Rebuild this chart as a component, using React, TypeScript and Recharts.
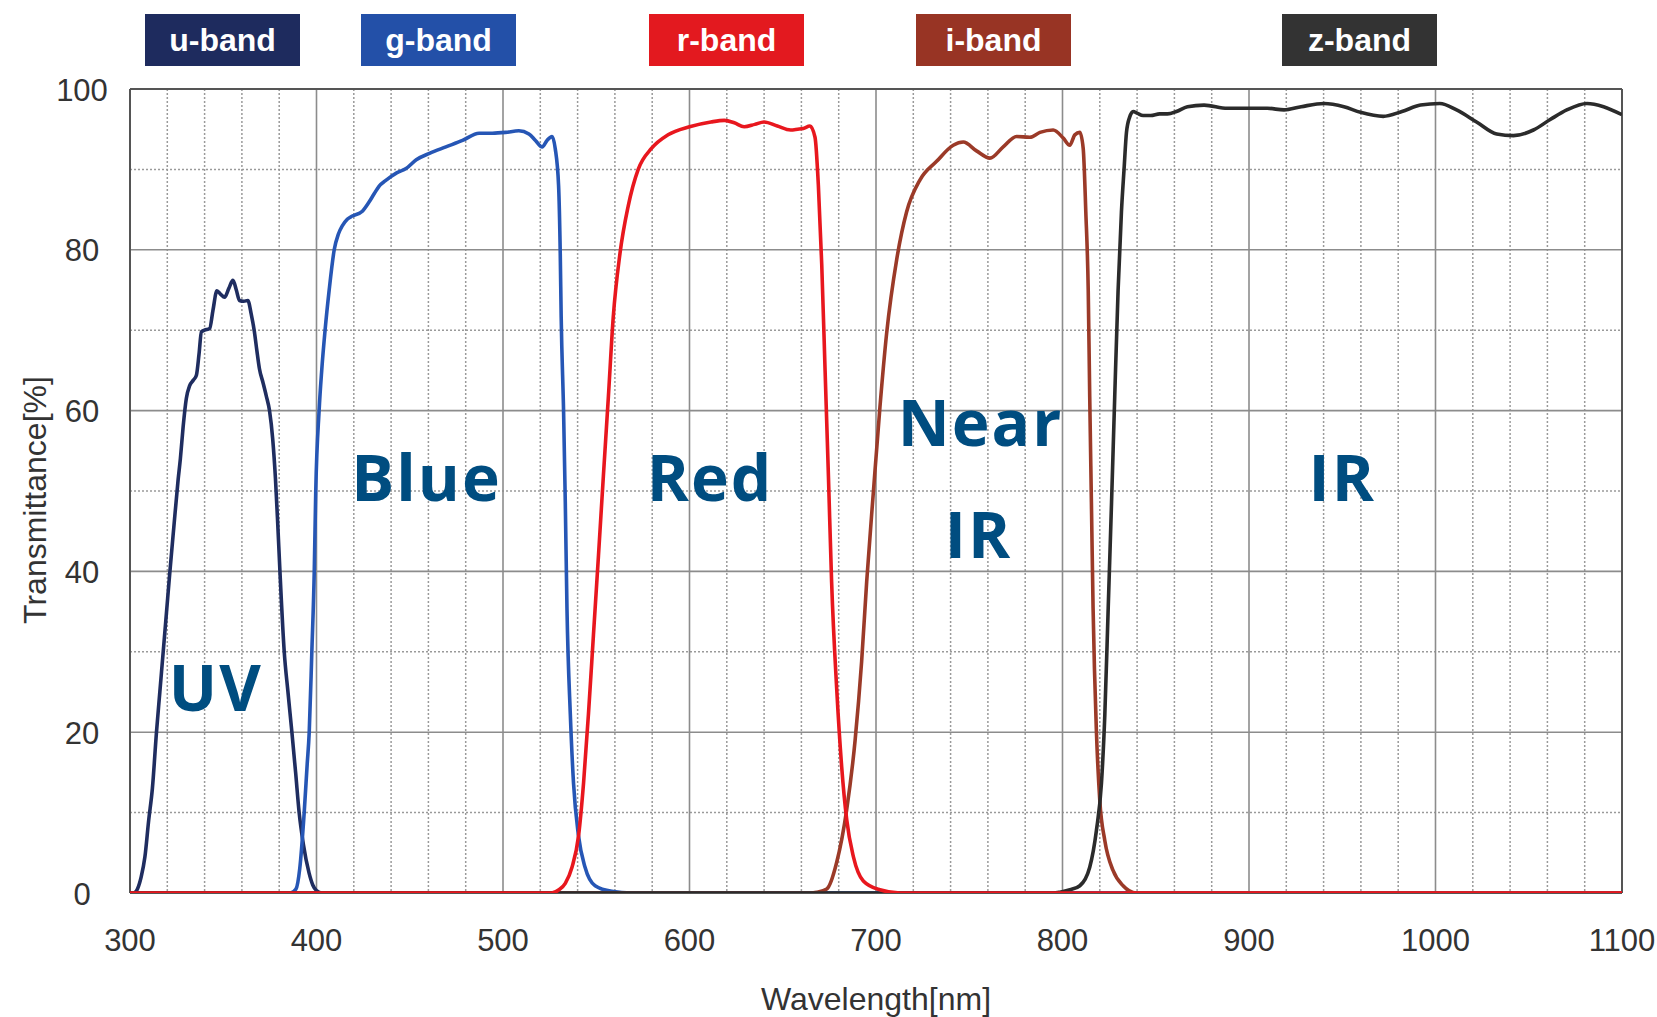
import React from "react";
import { LineChart, Line, XAxis, YAxis, CartesianGrid, ReferenceDot } from "recharts";

// [wavelength nm, transmittance %]
const uBand: [number, number][] = [
  [300, 0], [302, 0], [304, 0.5], [306, 2], [308, 4.5], [310, 9], [312, 13], [314.2, 20], [316, 25],
  [317.8, 30], [319.6, 35], [321.4, 40], [323.5, 45.5], [325.8, 51.4], [327, 54], [328.5, 58],
  [330.2, 61.5], [332, 63.1], [334, 63.8], [335.6, 64.4], [337, 67], [338.3, 69.8], [340, 70],
  [342.7, 70.2], [344.5, 72.5], [346.6, 74.9], [348.5, 74.5], [350.7, 74.1], [353, 75.2],
  [355.2, 76.2], [357, 75], [358.7, 73.7], [361, 73.6], [363.2, 73.7], [365, 72], [366.7, 69.8],
  [368, 67.5], [369.4, 65.2], [371.3, 63.5], [373, 61.9], [374.8, 60], [376.5, 56.5], [378, 51.5],
  [379.2, 46], [380.4, 40], [382.7, 30], [384.7, 25], [386.8, 20], [388.8, 15], [390.7, 10],
  [393, 6], [396, 2.5], [398, 1], [400, 0.3], [403, 0], [1100, 0],
];

const gBand: [number, number][] = [
  [300, 0], [386, 0], [389, 0.5], [391, 3], [393.4, 10], [395, 16], [396.1, 20], [397.5, 30],
  [398.8, 40], [399.6, 50], [401.4, 60], [402.8, 65], [404.6, 70], [406.8, 75], [409.5, 80], [411.8, 82],
  [413.9, 83], [416.5, 83.8], [419.2, 84.2], [424.6, 84.8], [428.1, 85.9], [431, 87], [433.5, 87.9],
  [437, 88.6], [443.2, 89.6], [448, 90.1], [453.5, 91.2], [460.6, 92], [469.4, 92.8], [478.3, 93.6],
  [487.2, 94.5], [494.3, 94.5], [501.4, 94.6], [508.5, 94.8], [513.9, 94.4], [517.4, 93.6],
  [521, 92.8], [523.6, 93.6], [526.3, 94.1], [528, 92.6], [529.8, 88], [530.7, 79.5], [531.2, 71.6],
  [532.5, 59.7], [533.4, 48.6], [534.3, 35.4], [536.1, 22.2], [537.8, 13.7], [540.5, 7.1],
  [544, 3.2], [549.4, 0.9], [558.3, 0.2], [569, 0], [1100, 0],
];

const rBand: [number, number][] = [
  [300, 0], [526, 0], [530, 0.4], [533.4, 1.2], [537, 3.2], [540.5, 7.1], [543.2, 13.7],
  [545.8, 22.2], [548.5, 32.1], [551.2, 42], [553.8, 51.8], [556.5, 61.7], [559.1, 71.6],
  [562.7, 79.5], [567.1, 85.4], [572.5, 90], [579.6, 92.6], [588.5, 94.3], [600, 95.3],
  [611.5, 95.9], [618.7, 96.1], [624, 95.8], [629.3, 95.3], [635, 95.6], [640, 95.9], [647.1, 95.4],
  [654.2, 94.9], [658, 95], [661, 95.1], [664.6, 95.4], [667.3, 94], [669.1, 88], [670.9, 78.2],
  [672.7, 65], [674.5, 51.8], [676.2, 38.7], [678.9, 25.5], [681.6, 15.7], [684.3, 9.1],
  [687.9, 4.5], [693.2, 1.5], [702.1, 0.4], [712.9, 0], [1100, 0],
];

const iBand: [number, number][] = [
  [300, 0], [665, 0], [668.2, 0.1], [673.6, 0.5], [678.9, 3.8], [684.3, 10.4], [688.8, 19],
  [692.3, 28.8], [695, 38.7], [698.6, 49.9], [702.1, 60.4], [705.7, 69.6], [711.1, 78.8],
  [716.4, 84.7], [723.6, 88.7], [732.5, 91], [741.4, 93], [746.8, 93.4], [753.9, 92.3],
  [761.1, 91.4], [768.2, 92.8], [775.4, 94.1], [782.5, 94], [787.9, 94.6], [795, 94.9],
  [800.4, 93.9], [803.9, 93], [806.6, 94.3], [809.3, 94.6], [811.1, 92.6], [812.5, 84.7],
  [813.8, 74.9], [814.6, 61.7], [815.5, 48.6], [816.4, 35.4], [818.2, 20], [820, 11.5],
  [822.7, 6.5], [827.1, 2.8], [832.5, 0.9], [839.6, 0], [1100, 0],
];

const zBand: [number, number][] = [
  [300, 0], [795, 0], [798.6, 0.1], [804, 0.4], [809.3, 0.9], [814.6, 3.2], [818.2, 7.8],
  [820.9, 13.7], [822.7, 22.2], [824.5, 35.4], [826.3, 48.6], [828, 61.7], [829.8, 74.9],
  [831.6, 84.7], [833, 90], [834.3, 94.6], [836, 96.5], [837.9, 97.2], [840, 97], [843.2, 96.7],
  [847.3, 96.7], [852.1, 96.9], [856.3, 96.9], [861.1, 97.2], [867, 97.8], [875.9, 98],
  [888.4, 97.6], [900, 97.6], [909.8, 97.6], [918.8, 97.4], [928, 97.8], [940.2, 98.2],
  [950.9, 97.8], [959.8, 97.1], [972, 96.6], [982, 97.2], [992, 98], [1002.3, 98.2],
  [1011.3, 97.4], [1022, 95.9], [1032.8, 94.4], [1041.8, 94.2], [1052.5, 94.9], [1061.5, 96.2],
  [1070.4, 97.4], [1081.2, 98.2], [1090.1, 97.8], [1100, 96.8],
];

const xTicks = [300, 400, 500, 600, 700, 800, 900, 1000, 1100];
const yTicks = [0, 20, 40, 60, 80, 100];
const xMinorGrid = [
  320, 340, 360, 380, 420, 440, 460, 480, 520, 540, 560, 580, 620, 640, 660, 680,
  720, 740, 760, 780, 820, 840, 860, 880, 920, 940, 960, 980, 1020, 1040, 1060, 1080,
];
const xMajorGrid = [400, 500, 600, 700, 800, 900, 1000];
const yMinorGrid = [10, 30, 50, 70, 90];
const yMajorGrid = [20, 40, 60, 80];

// region labels: text, wavelength, transmittance at baseline
const regionLabels: [string, number, number][] = [
  ["UV", 346, 22.6],
  ["Blue", 459, 48.8],
  ["Red", 611, 48.8],
  ["Near", 756, 55.6],
  ["IR", 755, 41.7],
  ["IR", 950, 48.8],
];

const bands = [
  { name: "u-band", color: "#1e2b5e", left: 145 },
  { name: "g-band", color: "#2350a8", left: 361 },
  { name: "r-band", color: "#e3191f", left: 649 },
  { name: "i-band", color: "#983424", left: 916 },
  { name: "z-band", color: "#333333", left: 1282 },
];

const toPoints = (arr: [number, number][]) => arr.map(([nm, t]) => ({ nm, t }));

const XTick = ({ x, y, payload }: any) => (
  <text x={x} y={y + 47} textAnchor="middle" dominantBaseline="central"
    fontFamily="'Liberation Sans', Arial, sans-serif" fontSize={31} fill="#333">
    {payload.value}
  </text>
);

const YTick = ({ x, y, payload }: any) => (
  <text x={x - 48} y={y + 1} textAnchor="middle" dominantBaseline="central"
    fontFamily="'Liberation Sans', Arial, sans-serif" fontSize={31} fill="#333">
    {payload.value}
  </text>
);

const labelFont = "'Liberation Sans', Arial, sans-serif";

const App = () => {
  return (
    <div style={{ position: "absolute", left: 0, top: 0, width: 1657, height: 1017, background: "#fff" }}>
      {bands.map((b) => (
        <div
          key={b.name}
          style={{
            position: "absolute", left: b.left, top: 14, width: 155, height: 52,
            background: b.color, color: "#fff", fontFamily: labelFont, fontWeight: 700,
            fontSize: 32, lineHeight: "52px", textAlign: "center",
          }}
        >
          {b.name}
        </div>
      ))}
      <LineChart width={1657} height={1017} margin={{ top: 89, right: 35, left: 0, bottom: 0 }}>
        <CartesianGrid horizontalValues={yMinorGrid} verticalValues={xMinorGrid}
          stroke="#9a9a9a" strokeDasharray="2 2" strokeWidth={1.5} />
        <CartesianGrid horizontalValues={yMajorGrid} verticalValues={xMajorGrid}
          stroke="#8c8c8c" strokeWidth={1.6} />
        <CartesianGrid horizontalValues={[0, 100]} verticalValues={[300, 1100]}
          stroke="#555" strokeWidth={2} />
        <XAxis
          type="number" dataKey="nm" domain={[300, 1100]} ticks={xTicks} allowDataOverflow
          height={124} axisLine={false} tickLine={false} tickSize={0} tickMargin={0}
          tick={<XTick />}
          label={{
            content: (props: any) => {
              const vb = props.viewBox;
              return (
                <text x={vb.x + vb.width / 2} y={vb.y + 106} textAnchor="middle" dominantBaseline="central"
                  fontFamily={labelFont} fontSize={32} fill="#333">Wavelength[nm]</text>
              );
            },
          }}
        />
        <YAxis
          type="number" dataKey="t" domain={[0, 100]} ticks={yTicks} allowDataOverflow
          width={130} axisLine={false} tickLine={false} tickSize={0} tickMargin={0}
          tick={<YTick />}
          label={{
            content: (props: any) => {
              const vb = props.viewBox;
              const cy = vb.y + vb.height / 2 + 9;
              return (
                <text x={35} y={cy} textAnchor="middle" dominantBaseline="central"
                  transform={`rotate(-90, 35, ${cy})`}
                  fontFamily={labelFont} fontSize={32} fill="#333">Transmittance[%]</text>
              );
            },
          }}
        />
        <Line data={toPoints(uBand)} dataKey="t" type="monotone" stroke="#1f2d60" strokeWidth={3.6}
          dot={false} isAnimationActive={false} />
        <Line data={toPoints(gBand)} dataKey="t" type="monotone" stroke="#2656b5" strokeWidth={3.6}
          dot={false} isAnimationActive={false} />
        <Line data={toPoints(iBand)} dataKey="t" type="monotone" stroke="#9b3a28" strokeWidth={3.6}
          dot={false} isAnimationActive={false} />
        <Line data={toPoints(zBand)} dataKey="t" type="monotone" stroke="#2b2b2b" strokeWidth={3.6}
          dot={false} isAnimationActive={false} />
        <Line data={toPoints(rBand)} dataKey="t" type="monotone" stroke="#e8171e" strokeWidth={3.6}
          dot={false} isAnimationActive={false} />
        {regionLabels.map(([text, nm, t], i) => (
          <ReferenceDot
            key={i} x={nm} y={t} r={0} ifOverflow="visible"
            shape={(p: any) => (
              <text x={p.cx} y={p.cy} textAnchor="middle"
                fontFamily="'Open Sans', 'Noto Sans', sans-serif" fontWeight={700}
                fontSize={64} letterSpacing={2} fill="#004d80">
                {text}
              </text>
            )}
          />
        ))}
      </LineChart>
    </div>
  );
};

export default App;
